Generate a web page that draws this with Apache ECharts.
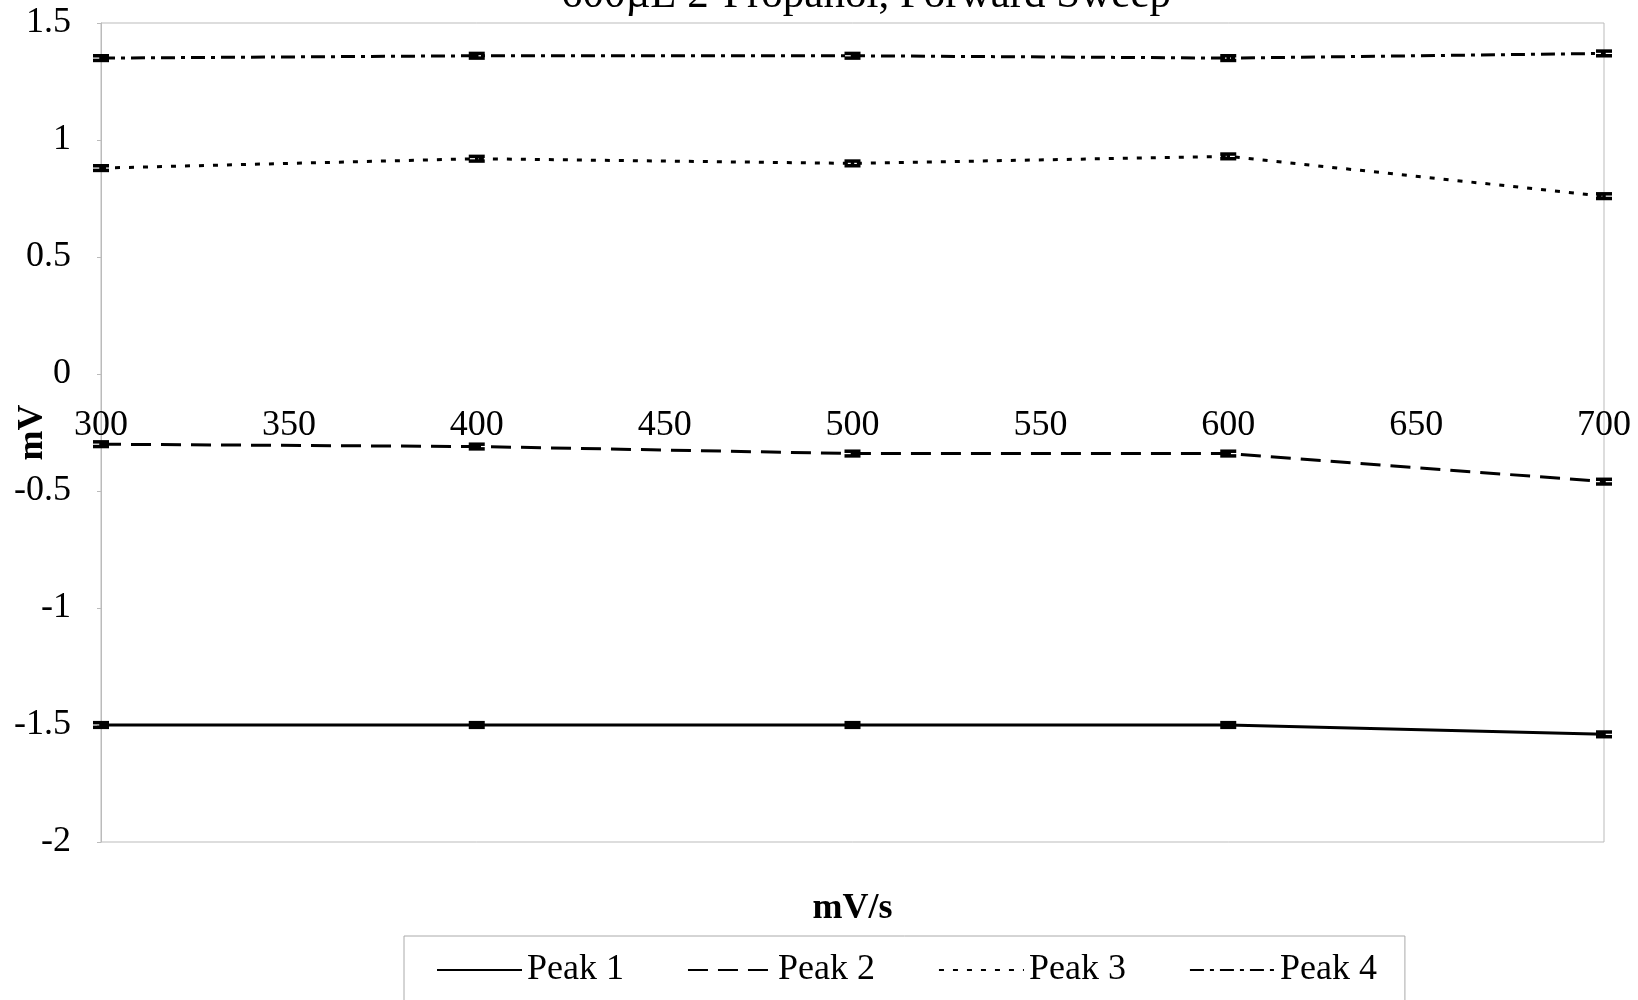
<!DOCTYPE html>
<html>
<head>
<meta charset="utf-8">
<script src="https://cdn.jsdelivr.net/npm/echarts@6/dist/echarts.min.js"></script>
<style>
  html, body { margin: 0; padding: 0; background: #fff; }
  #chart { width: 1638px; height: 1000px; }
</style>
</head>
<body>
<div id="chart"></div>
<script>
// scan rates (mV/s)
var rates = [300, 400, 500, 600, 700];
var peak1 = [-1.50, -1.50, -1.50, -1.50, -1.54];
var peak2 = [-0.30, -0.31, -0.34, -0.34, -0.46];
var peak3 = [0.88, 0.92, 0.90, 0.93, 0.76];
var peak4 = [1.35, 1.36, 1.36, 1.35, 1.37];
// small +/- error on every point
var errs = [0.01, 0.01, 0.01, 0.01, 0.01];

var font = '"Liberation Serif", "Times New Roman", serif';

function pairs(ys) {
  return rates.map(function (x, i) { return [x, ys[i]]; });
}

function errData(ys) {
  return rates.map(function (x, i) { return [x, ys[i] - errs[i], ys[i] + errs[i]]; });
}

// draws an error bar with caps
function renderErr(params, api) {
  var x = api.value(0);
  var lo = api.coord([x, api.value(1)]);
  var hi = api.coord([x, api.value(2)]);
  var w = 8;
  var style = { stroke: '#000', lineWidth: 3.5, fill: null };
  return {
    type: 'group',
    children: [
      { type: 'line', shape: { x1: lo[0], y1: lo[1], x2: hi[0], y2: hi[1] }, style: style },
      { type: 'line', shape: { x1: lo[0] - w, y1: lo[1], x2: lo[0] + w, y2: lo[1] }, style: style },
      { type: 'line', shape: { x1: hi[0] - w, y1: hi[1], x2: hi[0] + w, y2: hi[1] }, style: style }
    ]
  };
}

function lineSeries(name, ys, type) {
  return {
    name: name,
    type: 'line',
    data: pairs(ys),
    symbol: 'none',
    color: '#000',
    lineStyle: { color: '#000', width: 3, type: type },
    z: 3
  };
}

function errSeries(ys) {
  return {
    type: 'custom',
    data: errData(ys),
    renderItem: renderErr,
    encode: { x: 0, y: [1, 2] },
    silent: true,
    z: 4
  };
}

var chart = echarts.init(document.getElementById('chart'));

var option = {
  backgroundColor: '#fff',
  animation: false,
  title: {
    text: '600µL 2-Propanol, Forward Sweep',
    left: 861,
    textAlign: 'center',
    top: -31,
    textStyle: { fontFamily: font, fontSize: 43, fontWeight: 'normal', color: '#000' }
  },
  grid: {
    left: 101,
    right: 34,
    top: 23,
    bottom: 158,
    outerBoundsMode: 'none',
    containLabel: false,
    show: true,
    borderColor: '#bbb',
    borderWidth: 1
  },
  legend: {
    data: ['Peak 1', 'Peak 2', 'Peak 3', 'Peak 4'],
    left: 404,
    top: 936,
    padding: [16, 28, 14, 32],
    itemWidth: 85,
    itemHeight: 14,
    itemGap: 63,
    itemStyle: { opacity: 0 },
    borderColor: '#aaa',
    borderWidth: 1,
    textStyle: { fontFamily: font, fontSize: 36, color: '#000' }
  },
  xAxis: {
    type: 'value',
    min: 300,
    max: 700,
    interval: 50,
    // axis runs along y = 0 (468px above the plot bottom)
    offset: -468,
    name: 'mV/s',
    nameLocation: 'middle',
    nameGap: 517,
    nameMoveOverlap: false,
    nameTextStyle: { fontFamily: font, fontSize: 36, fontWeight: 'bold', color: '#000' },
    axisLine: { show: false, onZero: false },
    axisTick: { show: false },
    axisLabel: { fontFamily: font, fontSize: 36, color: '#000', margin: 34 },
    splitLine: { show: false }
  },
  yAxis: {
    type: 'value',
    min: -2,
    max: 1.5,
    interval: 0.5,
    name: 'mV',
    nameLocation: 'middle',
    nameGap: 50,
    nameMoveOverlap: false,
    nameTextStyle: { fontFamily: font, fontSize: 36, fontWeight: 'bold', color: '#000' },
    axisLine: { show: true, lineStyle: { color: '#bbb', width: 1 } },
    axisTick: { show: true, length: 4, lineStyle: { color: '#bbb' } },
    axisLabel: { fontFamily: font, fontSize: 36, color: '#000', margin: 30 },
    splitLine: { show: false }
  },
  series: [
    lineSeries('Peak 1', peak1, 'solid'),
    lineSeries('Peak 2', peak2, [20, 10]),
    lineSeries('Peak 3', peak3, [5, 9]),
    lineSeries('Peak 4', peak4, [14, 6, 4, 6]),
    errSeries(peak1),
    errSeries(peak2),
    errSeries(peak3),
    errSeries(peak4)
  ]
};

chart.setOption(option);
</script>
</body>
</html>
